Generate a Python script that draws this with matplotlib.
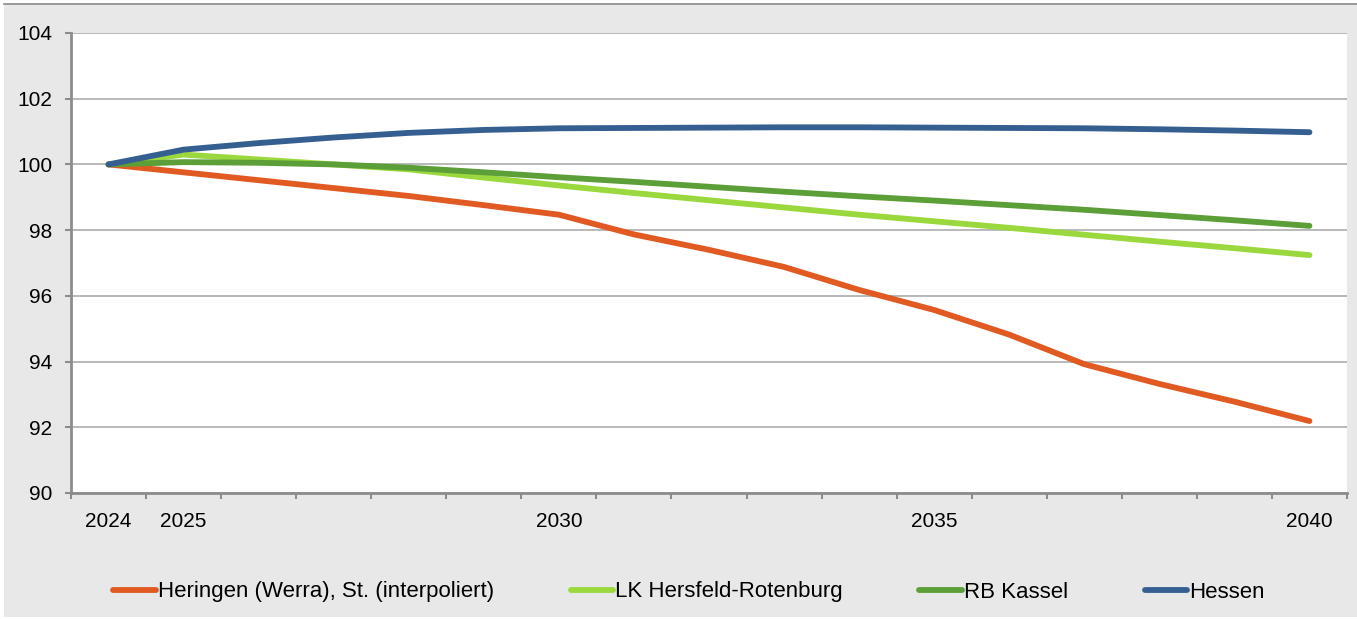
import matplotlib
matplotlib.use("Agg")
import matplotlib.pyplot as plt
from matplotlib import font_manager
from matplotlib.patches import Rectangle
from matplotlib.lines import Line2D
import numpy as np

# Data (index, 2024 = 100)
years = list(range(2024, 2041))
year_labels = ["2024", "2025", "", "", "", "", "2030", "", "", "", "", "2035", "", "", "", "", "2040"]

heringen = [100.0, 99.76, 99.52, 99.28, 99.04, 98.76, 98.47, 97.87, 97.40, 96.88, 96.18, 95.57, 94.82,
            93.92, 93.32, 92.78, 92.19]
lk_hersfeld = [100.0, 100.30, 100.15, 100.0, 99.85, 99.60, 99.36, 99.13, 98.91, 98.69, 98.47, 98.27,
               98.07, 97.86, 97.65, 97.45, 97.24]
rb_kassel = [100.0, 100.07, 100.05, 100.0, 99.90, 99.76, 99.61, 99.47, 99.32, 99.17, 99.03, 98.90,
             98.76, 98.62, 98.46, 98.30, 98.13]
hessen = [100.0, 100.45, 100.65, 100.82, 100.96, 101.05, 101.10, 101.11, 101.12, 101.13, 101.13,
          101.12, 101.11, 101.10, 101.07, 101.03, 100.98]

series_names = ["Heringen (Werra), St. (interpoliert)", "LK Hersfeld-Rotenburg", "RB Kassel", "Hessen"]
series_colors = ["#E05A22", "#9AD83E", "#5C9E37", "#355F91"]

available = {f.name for f in font_manager.fontManager.ttflist}
if "Liberation Sans Narrow" in available:
    family = "Liberation Sans Narrow"
    tick_fs, leg_fs = 16, 19
else:
    family = "Liberation Sans"
    tick_fs, leg_fs = 15, 16

plt.rcParams.update({
    "font.family": family,
    "figure.dpi": 100,
})

fig = plt.figure(figsize=(13.57, 6.19), facecolor="white")
W, H = 1357, 619

# gray chart background + top rule (behind the axes)
fig.patches.append(Rectangle((4 / W, 2 / H), 1 - 4 / W, 1 - 5 / H, transform=fig.transFigure,
                             facecolor="#E8E8E8", edgecolor="none", zorder=-10))
fig.add_artist(Line2D([4 / W, 1], [1 - 3.5 / H, 1 - 3.5 / H], transform=fig.transFigure,
                      color="#8C8C8C", linewidth=1.2, zorder=-5))

ax = fig.add_axes([71 / W, 1 - 493 / H, (1347 - 71) / W, (493 - 33) / H])
ax.set_facecolor("white")

x = np.arange(len(years))
for vals, name, col in zip([heringen, lk_hersfeld, rb_kassel, hessen], series_names, series_colors):
    ax.plot(x, vals, color=col, linewidth=4.2, solid_capstyle="round", solid_joinstyle="round",
            label=name, zorder=3)

ax.set_xlim(-0.5, len(years) - 0.5)
ax.set_ylim(90, 104)
ax.set_yticks(np.arange(90, 105, 2))
ax.yaxis.grid(True, color="#A6A6A6", linewidth=1.1)
ax.set_axisbelow(True)

# category axis: ticks between categories, labels centred on categories
ax.set_xticks(np.arange(-0.5, len(years), 1.0))
ax.set_xticklabels([])
ax.set_xticks(x, minor=True)
ax.set_xticklabels(year_labels, minor=True)
ax.tick_params(axis="x", which="major", direction="out", length=4.3, width=1.5, color="#8C8C8C")
ax.tick_params(axis="x", which="minor", length=0, pad=14, labelsize=tick_fs)
ax.tick_params(axis="y", direction="out", length=4.3, width=1.5, color="#8C8C8C", pad=9,
               labelsize=tick_fs)

for side in ["top", "right"]:
    ax.spines[side].set_visible(False)
for side in ["left", "bottom"]:
    ax.spines[side].set_color("#8C8C8C")
    ax.spines[side].set_linewidth(2)

handles = [Line2D([], [], color=c, linewidth=4.2, solid_capstyle="round") for c in series_colors]
fig.legend(handles, series_names, loc="center", bbox_to_anchor=(689 / W, 1 - 592 / H), ncol=4,
           frameon=False, fontsize=leg_fs, handlelength=1.9, handletextpad=0.1, columnspacing=3.45)

fig.savefig("out.png", dpi=100, facecolor="white")
